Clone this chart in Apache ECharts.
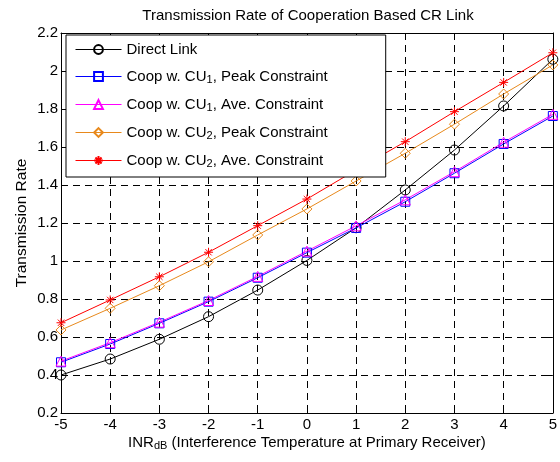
<!DOCTYPE html>
<html>
<head>
<meta charset="utf-8">
<script src="https://cdn.jsdelivr.net/npm/echarts@6/dist/echarts.min.js"></script>
<style>
html, body { margin: 0; padding: 0; background: #fff; }
#mainChart { width: 560px; height: 462px; }
</style>
</head>
<body>
<div id="mainChart"></div>
<script>
var inrDb = [-5, -4, -3, -2, -1, 0, 1, 2, 3, 4, 5];
var directLink = [0.400, 0.484, 0.588, 0.707, 0.847, 1.003, 1.175, 1.374, 1.584, 1.816, 2.062];
var cu1Peak = [0.467, 0.563, 0.672, 0.786, 0.912, 1.044, 1.174, 1.312, 1.462, 1.616, 1.763];
var cu1Ave = [0.473, 0.570, 0.678, 0.792, 0.919, 1.052, 1.185, 1.322, 1.470, 1.625, 1.772];
var cu2Peak = [0.637, 0.751, 0.870, 0.996, 1.137, 1.274, 1.421, 1.567, 1.720, 1.879, 2.032];
var cu2Ave = [0.675, 0.795, 0.917, 1.046, 1.186, 1.326, 1.479, 1.628, 1.786, 1.940, 2.096];
var seriesNames = ['Direct Link', 'Coop w. CU1, Peak Constraint', 'Coop w. CU1, Ave. Constraint',
	'Coop w. CU2, Peak Constraint', 'Coop w. CU2, Ave. Constraint'];

var FONT = 'Liberation Sans, Arial, sans-serif';
// asterisk marker, drawn with strokes only
var starPath = 'path://M5,0L5,10M0,5L10,5M1.5,1.5L8.5,8.5M1.5,8.5L8.5,1.5';

function pairs(ys) {
	var a = [];
	for (var i = 0; i < inrDb.length; i++) {
		a.push([inrDb[i], ys[i]]);
	}
	return a;
}

function mkSeries(name, ys, color, symbol, size) {
	return {
		name: name,
		type: 'line',
		data: pairs(ys),
		symbol: symbol,
		symbolSize: size,
		showAllSymbol: true,
		lineStyle: { color: color, width: 1 },
		itemStyle: { color: 'rgba(255,255,255,0)', borderColor: color, borderWidth: 1 },
		emphasis: { disabled: true },
		animation: false
	};
}

// legend labels with subscripts
function legendLabel(name) {
	var m = name.match(/^(Coop w\. CU)(\d)(, .*)$/);
	if (!m) return '{t|' + name + '}';
	return '{t|' + m[1] + '}{s|' + m[2] + '}{t|' + m[3] + '}';
}

var dom = document.getElementById('mainChart');
var myChart = echarts.init(dom);

var series = [
	mkSeries(seriesNames[0], directLink, '#000000', 'circle', 10),
	mkSeries(seriesNames[1], cu1Peak, '#0000ff', 'rect', 9),
	mkSeries(seriesNames[2], cu1Ave, '#ff00ff', 'triangle', 10),
	mkSeries(seriesNames[3], cu2Peak, '#e8891c', 'diamond', 10),
	mkSeries(seriesNames[4], cu2Ave, '#ff0000', starPath, 9)
];

var option = {
	backgroundColor: '#fff',
	textStyle: { fontFamily: FONT, color: '#000' },
	title: {
		text: 'Transmission Rate of Cooperation Based CR Link',
		left: 303,
		textAlign: 'center',
		top: 3,
		textStyle: { fontFamily: FONT, fontSize: 15, fontWeight: 'normal', color: '#000' }
	},
	grid: { left: 61, right: 7, top: 33, bottom: 49 },
	legend: {
		orient: 'vertical',
		left: 66,
		top: 35,
		data: seriesNames,
		backgroundColor: '#fff',
		borderColor: '#000',
		borderWidth: 1,
		borderRadius: 0,
		padding: [7, 58, 8, 9],
		itemWidth: 46,
		itemHeight: 11,
		itemGap: 9,
		selectedMode: false,
		formatter: legendLabel,
		lineStyle: { width: 1 },
		textStyle: {
			rich: {
				t: { fontFamily: FONT, fontSize: 15, color: '#000', lineHeight: 17 },
				s: { fontFamily: FONT, fontSize: 11, color: '#000', lineHeight: 17, verticalAlign: 'bottom', padding: [8, 0, 0, 0] }
			}
		}
	},
	xAxis: [{
		type: 'value',
		min: -5,
		max: 5,
		interval: 1,
		name: '{t|INR}{s|dB}{t| (Interference Temperature at Primary Receiver)}',
		nameLocation: 'middle',
		nameGap: 21,
		nameMoveOverlap: false,
		nameTextStyle: {
			rich: {
				t: { fontFamily: FONT, fontSize: 15, color: '#000', lineHeight: 17 },
				s: { fontFamily: FONT, fontSize: 11, color: '#000', lineHeight: 17, verticalAlign: 'bottom', padding: [9, 0, 0, 0] }
			}
		},
		axisLine: { onZero: false, lineStyle: { color: '#000', width: 1 } },
		axisTick: { inside: true, length: 5, lineStyle: { color: '#000' } },
		axisLabel: { fontFamily: FONT, fontSize: 15, color: '#000', margin: 4 },
		splitLine: { show: true, lineStyle: { color: '#000', type: [7, 5], width: 1 } }
	}, {
		type: 'value',
		position: 'top',
		min: -5,
		max: 5,
		interval: 1,
		axisLine: { onZero: false, lineStyle: { color: '#000', width: 1 } },
		axisTick: { inside: true, length: 5, lineStyle: { color: '#000' } },
		axisLabel: { show: false },
		splitLine: { show: false }
	}],
	yAxis: [{
		type: 'value',
		min: 0.2,
		max: 2.2,
		interval: 0.2,
		name: 'Transmission Rate',
		nameLocation: 'middle',
		nameGap: 31,
		nameMoveOverlap: false,
		nameTextStyle: { fontFamily: FONT, fontSize: 15.5, color: '#000' },
		axisLine: { onZero: false, lineStyle: { color: '#000', width: 1 } },
		axisTick: { inside: true, length: 5, lineStyle: { color: '#000' } },
		axisLabel: {
			fontFamily: FONT, fontSize: 15, color: '#000', margin: 3,
			formatter: function (v) { return String(Math.round(v * 10) / 10); }
		},
		splitLine: { show: true, lineStyle: { color: '#000', type: [7, 5], width: 1 } }
	}, {
		type: 'value',
		position: 'right',
		min: 0.2,
		max: 2.2,
		interval: 0.2,
		axisLine: { onZero: false, lineStyle: { color: '#000', width: 1 } },
		axisTick: { inside: true, length: 5, lineStyle: { color: '#000' } },
		axisLabel: { show: false },
		splitLine: { show: false }
	}],
	series: series
};
myChart.setOption(option, true);
</script>
</body>
</html>
